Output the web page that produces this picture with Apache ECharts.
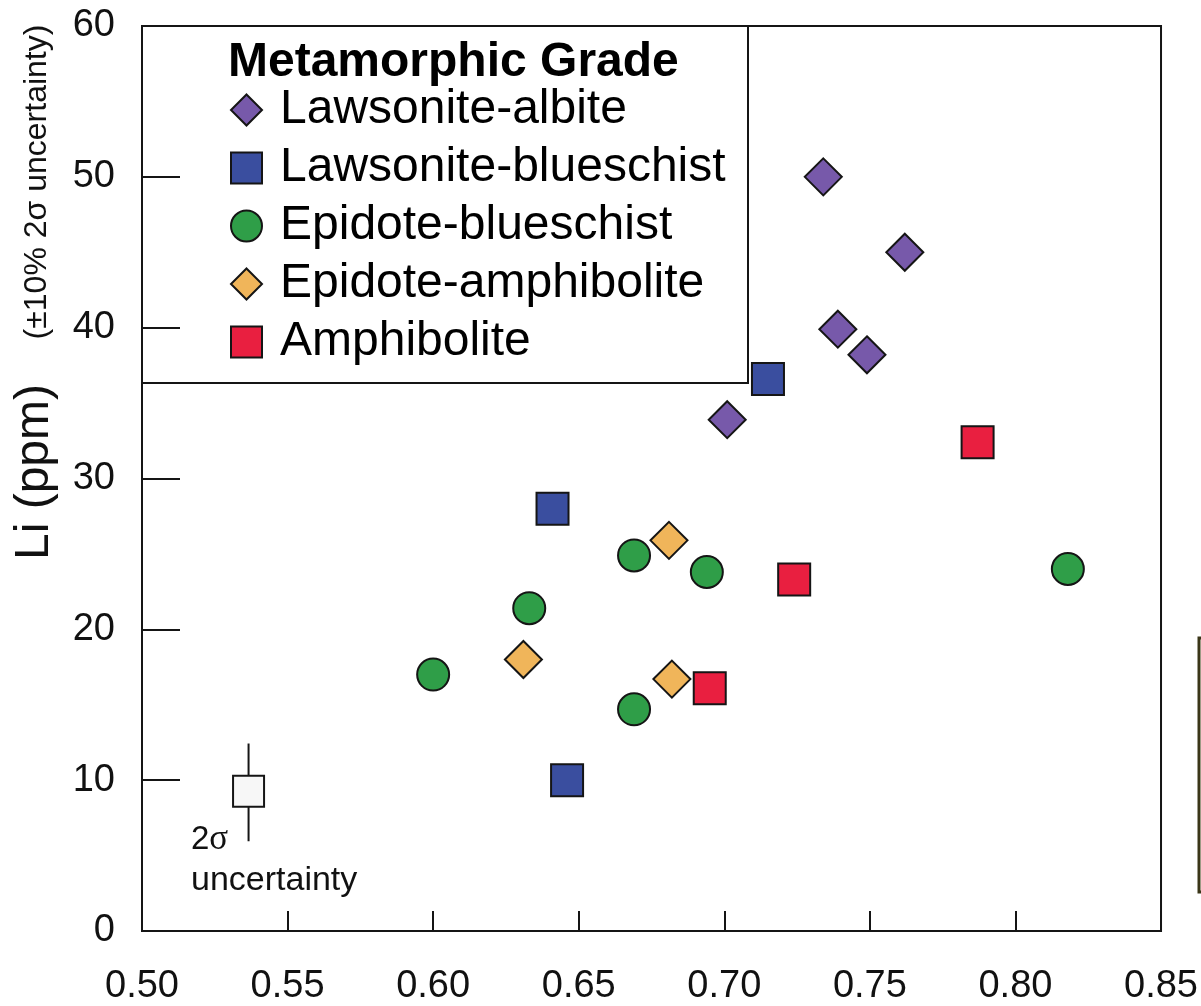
<!DOCTYPE html>
<html>
<head>
<meta charset="utf-8">
<script src="https://cdn.jsdelivr.net/npm/echarts@6/dist/echarts.min.js"></script>
<style>
  html, body { margin: 0; padding: 0; background: #fff; }
  #chart { width: 1201px; height: 1006px; }
</style>
</head>
<body>
<div id="chart"></div>
<script>
// Li (ppm) vs ratio, grouped by metamorphic grade
const grades = ['Lawsonite-albite', 'Lawsonite-blueschist', 'Epidote-blueschist', 'Epidote-amphibolite', 'Amphibolite']

const lawsoniteAlbite = [[0.734, 50.0], [0.762, 45.0], [0.739, 39.9], [0.749, 38.2], [0.701, 33.9]]
const lawsoniteBlueschist = [[0.715, 36.6], [0.641, 28.0], [0.646, 10.0]]
const epidoteBlueschist = [[0.818, 24.0], [0.669, 24.9], [0.694, 23.8], [0.633, 21.4], [0.600, 17.0], [0.669, 14.7]]
const epidoteAmphibolite = [[0.681, 25.9], [0.631, 18.0], [0.682, 16.7]]
const amphibolite = [[0.787, 32.4], [0.724, 23.3], [0.695, 16.1]]

// 2 sigma sample marker
const sigmaPoint = [[0.5366, 9.26]]
const sigmaBar = [[0.5366, 5.95], [0.5366, 12.43]]

const xTicks = [0.50, 0.55, 0.60, 0.65, 0.70, 0.75, 0.80, 0.85]
const yTicks = [0, 10, 20, 30, 40, 50, 60]

const FONT = '"Liberation Sans", Arial, Helvetica, sans-serif'
const SERIF = '"Liberation Serif", "DejaVu Serif", serif'
const EDGE = '#151515'

const styles = [
  { symbol: 'diamond', size: 37, color: '#7759aa' },
  { symbol: 'rect', size: 32, color: '#3a4e9f' },
  { symbol: 'circle', size: 32, color: '#2f9e48' },
  { symbol: 'diamond', size: 37, color: '#f0b55a' },
  { symbol: 'rect', size: 32, color: '#e91f40' },
]
const groups = [lawsoniteAlbite, lawsoniteBlueschist, epidoteBlueschist, epidoteAmphibolite, amphibolite]

const chart = echarts.init(document.getElementById('chart'), null, { renderer: 'canvas' })

const series = groups.map((data, i) => ({
  name: grades[i],
  type: 'scatter',
  data,
  symbol: styles[i].symbol,
  symbolSize: styles[i].size,
  itemStyle: { color: styles[i].color, borderColor: EDGE, borderWidth: 2, opacity: 1 },
  z: 3,
}))

series.push({
  type: 'line',
  data: sigmaBar,
  showSymbol: false,
  symbol: 'none',
  lineStyle: { color: EDGE, width: 2 },
  z: 2,
  silent: true,
})
series.push({
  type: 'scatter',
  data: sigmaPoint,
  symbol: 'rect',
  symbolSize: 31,
  itemStyle: { color: '#f7f7f7', borderColor: EDGE, borderWidth: 2, opacity: 1 },
  z: 3,
  silent: true,
})

const option = {
  backgroundColor: '#fff',
  animation: false,
  grid: {
    left: 142, right: 37, top: 26, bottom: 73,
    show: true, borderColor: EDGE, borderWidth: 2,
  },
  title: {
    text: 'Metamorphic Grade',
    left: 228,
    top: 39,
    padding: 0,
    textStyle: { fontFamily: FONT, fontSize: 48, fontWeight: 'bold', color: '#000', lineHeight: 48 },
  },
  legend: {
    data: grades,
    orient: 'vertical',
    left: 230,
    top: 86,
    padding: 0,
    itemGap: 10,
    itemWidth: 31,
    itemHeight: 31,
    textStyle: { fontFamily: FONT, fontSize: 48, color: '#000', lineHeight: 48, padding: [0, 0, 0, 13] },
  },
  xAxis: {
    type: 'value',
    min: xTicks[0],
    max: xTicks[xTicks.length - 1],
    interval: 0.05,
    axisLine: { show: true, lineStyle: { color: EDGE, width: 2 } },
    axisTick: { show: true, inside: true, length: 20, lineStyle: { color: EDGE, width: 2 } },
    splitLine: { show: false },
    axisLabel: {
      fontFamily: FONT, fontSize: 38, color: '#111', margin: 37,
      formatter: v => v.toFixed(2),
    },
  },
  yAxis: {
    type: 'value',
    min: yTicks[0],
    max: yTicks[yTicks.length - 1],
    interval: 10,
    axisLine: { show: true, lineStyle: { color: EDGE, width: 2 } },
    axisTick: { show: true, inside: true, length: 38, lineStyle: { color: EDGE, width: 2 } },
    splitLine: { show: false },
    axisLabel: { fontFamily: FONT, fontSize: 38, color: '#111', margin: 27 },
  },
  graphic: [
    {
      type: 'rect',
      z: 3,
      shape: { x: 142, y: 26, width: 606, height: 357 },
      style: { fill: 'none', stroke: EDGE, lineWidth: 2 },
      silent: true,
    },
    {
      type: 'text',
      x: 35, y: 472,
      rotation: Math.PI / 2,
      style: { text: 'Li (ppm)', font: '48px ' + FONT, fill: '#111', align: 'center', verticalAlign: 'middle' },
    },
    {
      type: 'text',
      x: 37, y: 182,
      rotation: Math.PI / 2,
      style: { text: '(\u00b110% 2\u03c3 uncertainty)', font: '32px ' + FONT, fill: '#111', align: 'center', verticalAlign: 'middle' },
    },
    {
      type: 'text',
      x: 191, y: 840,
      style: {
        text: '{a|2}{b|\u03c3}',
        align: 'left', verticalAlign: 'middle',
        rich: {
          a: { fontFamily: FONT, fontSize: 33, fill: '#111' },
          b: { fontFamily: SERIF, fontSize: 35, fill: '#111' },
        },
      },
    },
    {
      type: 'text',
      x: 191, y: 881,
      style: { text: 'uncertainty', font: '34px ' + FONT, fill: '#111', align: 'left', verticalAlign: 'middle' },
    },
    {
      type: 'rect',
      shape: { x: 1199, y: 638, width: 20, height: 254 },
      style: { fill: '#fffef0', stroke: '#3a3618', lineWidth: 3 },
      silent: true,
    },
  ],
  series,
}

chart.setOption(option)
</script>
</body>
</html>
